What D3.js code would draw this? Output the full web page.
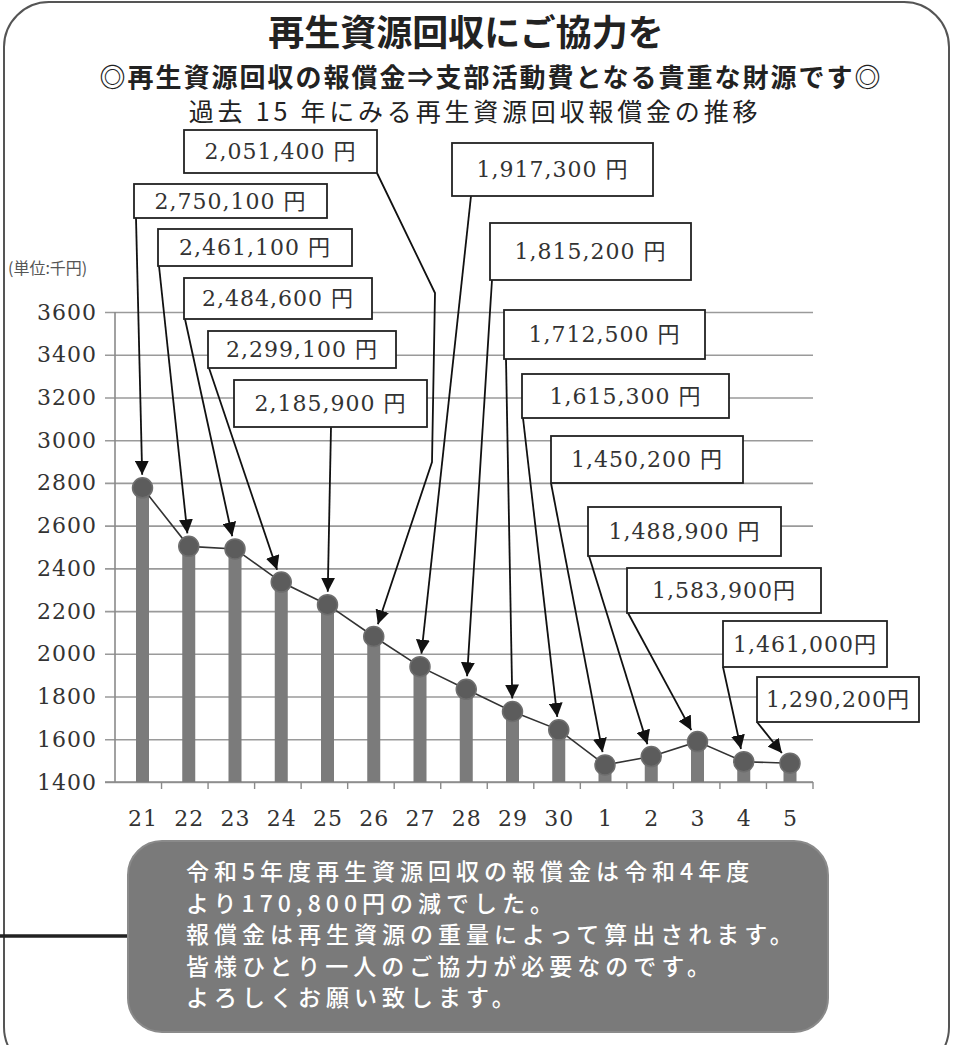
<!DOCTYPE html>
<html>
<head>
<meta charset="utf-8">
<script src="https://cdn.jsdelivr.net/npm/d3@7"></script>
<style>
  body { margin: 0; background: #fff; }
  svg { display: block; }
</style>
</head>
<body>
<svg id="chart" width="953" height="1045"></svg>
<script>
// Fiscal years (Heisei 21-30, Reiwa 1-5)
const years = ['21', '22', '23', '24', '25', '26', '27', '28', '29', '30', '1', '2', '3', '4', '5']
// Plotted values in thousand yen
const amounts = [2777, 2503, 2491, 2336, 2230, 2081, 1940, 1834, 1730, 1644, 1480, 1519, 1589, 1495, 1488]
// Callout labels as printed
const labelTexts = ['2,750,100 円', '2,461,100 円', '2,484,600 円', '2,299,100 円', '2,185,900 円',
  '2,051,400 円', '1,917,300 円', '1,815,200 円', '1,712,500 円', '1,615,300 円',
  '1,450,200 円', '1,488,900 円', '1,583,900円', '1,461,000円', '1,290,200円']
const yTicks = [1400, 1600, 1800, 2000, 2200, 2400, 2600, 2800, 3000, 3200, 3400, 3600]

const titleText = '再生資源回収にご協力を'
const subtitleText = '◎再生資源回収の報償金⇒支部活動費となる貴重な財源です◎'
const chartTitleText = '過去 15 年にみる再生資源回収報償金の推移'
const unitText = '(単位:千円)'
const noteLines = [
  '令和5年度再生資源回収の報償金は令和4年度',
  'より170,800円の減でした。',
  '報償金は再生資源の重量によって算出されます。',
  '皆様ひとり一人のご協力が必要なのです。',
  'よろしくお願い致します。'
]

// Placement of the callout boxes (layout only): box, start of the leader, bends
const boxLayout = [
  { x: 134, y: 184, w: 193, h: 34, sx: 136, sy: 218 },
  { x: 158, y: 229, w: 194, h: 37, sx: 159, sy: 266 },
  { x: 184, y: 278, w: 188, h: 41, sx: 185, sy: 319 },
  { x: 208, y: 331, w: 188, h: 37, sx: 209, sy: 368 },
  { x: 234, y: 380, w: 193, h: 47, sx: 331, sy: 427 },
  { x: 184, y: 130, w: 193, h: 43, sx: 377, sy: 173, bends: [[435, 293], [432, 462]] },
  { x: 452, y: 143, w: 201, h: 53, sx: 471, sy: 196 },
  { x: 490, y: 223, w: 201, h: 57, sx: 492, sy: 280 },
  { x: 504, y: 310, w: 201, h: 49, sx: 506, sy: 359 },
  { x: 522, y: 374, w: 207, h: 44, sx: 523, sy: 418 },
  { x: 551, y: 436, w: 192, h: 47, sx: 551, sy: 483 },
  { x: 588, y: 507, w: 193, h: 49, sx: 589, sy: 556 },
  { x: 627, y: 568, w: 194, h: 45, sx: 628, sy: 613 },
  { x: 723, y: 621, w: 164, h: 46, sx: 723, sy: 667 },
  { x: 757, y: 677, w: 162, h: 45, sx: 757, sy: 722 }
]

const svg = d3.select('#chart')
const serif = '"DejaVu Serif", "Noto Sans CJK JP", serif'
const gothic = '"Noto Sans CJK JP", sans-serif'

// Outer rounded frame
svg.append('rect')
  .attr('x', 4).attr('y', 2).attr('width', 945).attr('height', 1070)
  .attr('rx', 45).attr('fill', '#fff').attr('stroke', '#555').attr('stroke-width', 2)

// Titles
svg.append('text').attr('x', 466).attr('y', 46)
  .attr('text-anchor', 'middle').attr('font-family', gothic).attr('font-weight', 700)
  .attr('font-size', 36).attr('fill', '#222').text(titleText)
svg.append('text').attr('x', 491).attr('y', 87)
  .attr('text-anchor', 'middle').attr('font-family', gothic).attr('font-weight', 700)
  .attr('font-size', 26).attr('letter-spacing', 2).attr('fill', '#222').text(subtitleText)
svg.append('text').attr('x', 475).attr('y', 121)
  .attr('text-anchor', 'middle').attr('font-family', gothic).attr('font-weight', 400)
  .attr('font-size', 25).attr('letter-spacing', 3.8).attr('fill', '#222').text(chartTitleText)

// Scales
const yScale = d3.scaleLinear().domain([1400, 3600]).range([782, 312])
const xBand = d3.scaleBand().domain(years).range([115, 813])
const xPoint = d3.scalePoint().domain(years).range([142.5, 790])

const plotLeft = 115
const plotRight = 813

// Gridlines and y axis
const yAxis = svg.append('g').attr('class', 'y axis')
  .attr('transform', 'translate(' + plotRight + ',0)')
  .call(d3.axisLeft(yScale).tickValues(yTicks).tickFormat(d3.format('d'))
    .tickSize(plotRight - plotLeft + 10).tickPadding(8))
yAxis.select('.domain').remove()
yAxis.selectAll('line').attr('stroke', '#9a9a9a').attr('stroke-width', 1.6)
yAxis.selectAll('text')
  .attr('font-family', serif).attr('font-size', 22).attr('letter-spacing', 1).attr('fill', '#333')

svg.append('line')
  .attr('x1', plotLeft).attr('x2', plotLeft).attr('y1', yScale(3600)).attr('y2', yScale(1400))
  .attr('stroke', '#8a8a8a').attr('stroke-width', 1.6)

// X axis: ticks at category boundaries, labels at the points
const xAxisG = svg.append('g').attr('class', 'x axis')
  .attr('transform', 'translate(0,' + yScale(1400) + ')')
xAxisG.append('line')
  .attr('x1', plotLeft - 10).attr('x2', plotRight).attr('stroke', '#8a8a8a').attr('stroke-width', 1.6)
xAxisG.selectAll('.bound')
  .data(years.slice(1).concat(['end']))
  .enter().append('line')
  .attr('class', 'bound')
  .attr('x1', (d, i) => xBand(years[0]) + (i + 1) * xBand.step())
  .attr('x2', (d, i) => xBand(years[0]) + (i + 1) * xBand.step())
  .attr('y1', 0).attr('y2', 7)
  .attr('stroke', '#8a8a8a').attr('stroke-width', 1.4)
const xLabels = svg.append('g')
  .attr('transform', 'translate(0,' + (yScale(1400) + 20) + ')')
  .call(d3.axisBottom(xPoint).tickSize(0).tickPadding(8))
xLabels.select('.domain').remove()
xLabels.selectAll('text')
  .attr('font-family', serif).attr('font-size', 22).attr('letter-spacing', 1).attr('fill', '#333')

// Bars
const values = years.map((y, i) => ({ year: y, value: amounts[i] }))
svg.append('g').selectAll('rect')
  .data(values).enter().append('rect')
  .attr('x', d => xPoint(d.year) - 6.5)
  .attr('y', d => yScale(d.value))
  .attr('width', 13)
  .attr('height', d => yScale(1400) - yScale(d.value))
  .attr('fill', '#7b7b7b')

// Line and markers
const line = d3.line().x(d => xPoint(d.year)).y(d => yScale(d.value))
svg.append('path').datum(values)
  .attr('d', line).attr('fill', 'none').attr('stroke', '#333').attr('stroke-width', 1.6)
svg.append('g').selectAll('circle')
  .data(values).enter().append('circle')
  .attr('cx', d => xPoint(d.year)).attr('cy', d => yScale(d.value))
  .attr('r', 10).attr('fill', '#5c5c5c').attr('stroke', '#6e6e6e').attr('stroke-width', 1.5)

// Arrow heads
svg.append('defs').append('marker')
  .attr('id', 'arrow').attr('markerUnits', 'userSpaceOnUse')
  .attr('viewBox', '0 0 14 14').attr('refX', 14).attr('refY', 7)
  .attr('markerWidth', 14).attr('markerHeight', 14).attr('orient', 'auto')
  .append('path').attr('d', 'M0,0 L14,7 L0,14 Z').attr('fill', '#111')

// Leader lines from each box to its point
values.forEach((d, i) => {
  const b = boxLayout[i]
  const pts = [[b.sx, b.sy]].concat(b.bends || [])
  const tx = xPoint(d.year)
  const ty = yScale(d.value)
  const last = pts[pts.length - 1]
  const len = Math.hypot(tx - last[0], ty - last[1])
  const end = [tx - (tx - last[0]) / len * 13, ty - (ty - last[1]) / len * 13]
  svg.append('path')
    .attr('d', d3.line()(pts.concat([end])))
    .attr('fill', 'none').attr('stroke', '#111').attr('stroke-width', 1.8)
    .attr('marker-end', 'url(#arrow)')
})

// Label boxes
const boxes = svg.append('g').selectAll('g')
  .data(values).enter().append('g')
boxes.append('rect')
  .attr('x', (d, i) => boxLayout[i].x).attr('y', (d, i) => boxLayout[i].y)
  .attr('width', (d, i) => boxLayout[i].w).attr('height', (d, i) => boxLayout[i].h)
  .attr('fill', '#fff').attr('stroke', '#222').attr('stroke-width', 1.8)
boxes.append('text')
  .attr('x', (d, i) => boxLayout[i].x + boxLayout[i].w / 2)
  .attr('y', (d, i) => boxLayout[i].y + boxLayout[i].h / 2)
  .attr('dy', '0.36em').attr('text-anchor', 'middle')
  .attr('font-family', serif).attr('font-size', 22).attr('letter-spacing', 1)
  .attr('fill', '#333')
  .text((d, i) => labelTexts[i])

// Unit label
svg.append('text').attr('x', 8).attr('y', 274)
  .attr('font-family', gothic).attr('font-size', 16).attr('fill', '#555').text(unitText)

// Connector line and note box
svg.append('line').attr('x1', 0).attr('x2', 130).attr('y1', 936).attr('y2', 936)
  .attr('stroke', '#222').attr('stroke-width', 3.5)
svg.append('rect').attr('x', 128).attr('y', 841).attr('width', 700).attr('height', 191)
  .attr('rx', 34).attr('fill', '#7a7a7a').attr('stroke', '#8a8a8a').attr('stroke-width', 2)
svg.append('g').selectAll('text')
  .data(noteLines).enter().append('text')
  .attr('x', 186).attr('y', (d, i) => 880 + i * 31.5)
  .attr('font-family', gothic).attr('font-weight', 500).attr('font-size', 23)
  .attr('letter-spacing', 5).attr('fill', '#fff')
  .text(d => d)
</script>
</body>
</html>
